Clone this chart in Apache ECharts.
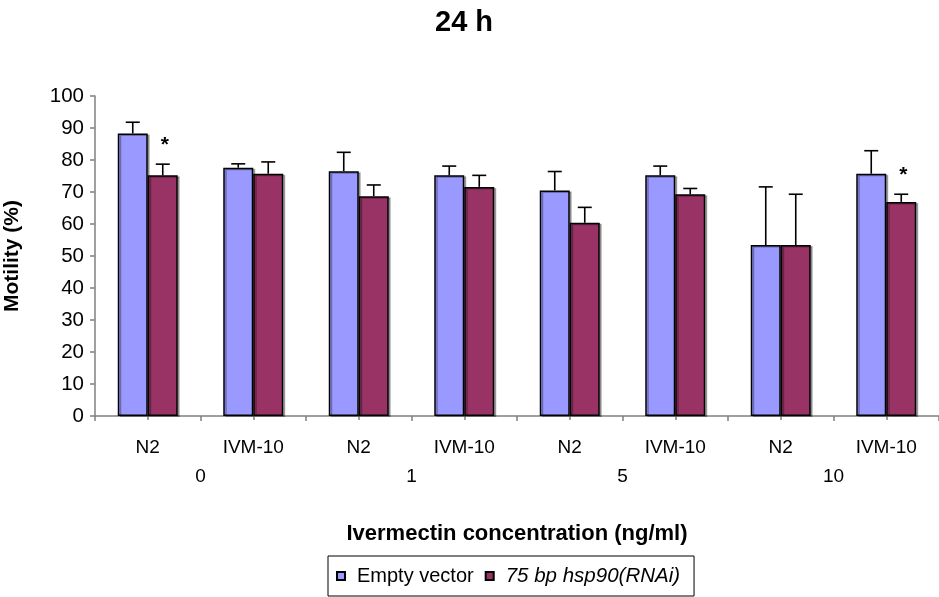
<!DOCTYPE html>
<html>
<head>
<meta charset="utf-8">
<script src="https://cdn.jsdelivr.net/npm/echarts@6/dist/echarts.min.js"></script>
<style>
  html, body { margin: 0; padding: 0; background: #fff; }
  #chart { width: 939px; height: 597px; }
</style>
</head>
<body>
<div id="chart"></div>
<script>
// Strain under each pair of bars, and the ivermectin dose that groups them
const strains = ['N2', 'IVM-10', 'N2', 'IVM-10', 'N2', 'IVM-10', 'N2', 'IVM-10'];
const concentrations = ['0', '1', '5', '10'];

// Motility (%) at 24 h, mean and standard deviation
const emptyVector   = [88.3, 77.6, 76.5, 75.2, 70.5, 75.2, 53.4, 75.7];
const emptyVectorSD = [3.5, 1.2, 5.9, 2.9, 5.9, 2.9, 18.2, 7.2];
const rnai          = [75.2, 75.7, 68.7, 71.6, 60.4, 69.3, 53.4, 66.9];
const rnaiSD        = [3.5, 3.7, 3.5, 3.6, 4.8, 1.8, 15.9, 2.4];
// Pairs flagged as significantly different
const rnaiSignificant = [1, 0, 0, 0, 0, 0, 0, 1];

const seriesNames = ['Empty vector', '75 bp hsp90(RNAi)'];
const yMin = 0, yMax = 100, yStep = 10;

const FONT = '"Liberation Sans", Arial, sans-serif';
const AXIS_GRAY = '#808080';
const BAR_W = 30;

function errorData(means, sds, flags) {
  return means.map((m, i) => [i, m, sds[i], flags ? flags[i] : 0]);
}

// Whisker above each bar (mean -> mean + SD) with a cap, plus optional star
function errorRenderer(shift) {
  return function (params, api) {
    const i = api.value(0);
    const mean = api.value(1);
    const sd = api.value(2);
    const flag = api.value(3);
    const base = api.coord([i, mean]);
    const top = api.coord([i, mean + sd]);
    const x = base[0] + shift;
    const style = { stroke: '#000', lineWidth: 1.6 };
    const children = [
      { type: 'line', shape: { x1: x, y1: base[1], x2: x, y2: top[1] }, style },
      { type: 'line', shape: { x1: x - 7, y1: top[1], x2: x + 7, y2: top[1] }, style }
    ];
    if (flag) {
      children.push({
        type: 'text',
        style: {
          text: '*', x: x + 2, y: top[1] - 19,
          fill: '#000', font: 'bold 21px ' + FONT,
          align: 'center', verticalAlign: 'middle'
        }
      });
    }
    return { type: 'group', children };
  };
}

const chart = echarts.init(document.getElementById('chart'), null, { renderer: 'canvas' });

chart.setOption({
  animation: false,
  backgroundColor: '#fff',
  title: {
    text: '24 h',
    left: 430,
    top: 3,
    textStyle: { fontFamily: FONT, fontSize: 29, fontWeight: 'bold', color: '#000' }
  },
  legend: {
    left: 328,
    top: 556,
    itemWidth: 8,
    itemHeight: 8,
    itemGap: 11,
    padding: [10, 14, 10, 8],
    borderColor: '#000',
    borderWidth: 1,
    icon: 'rect',
    data: seriesNames,
    formatter: function (name) {
      return name === seriesNames[1] ? '{it|' + name + '}' : '{n|' + name + '}';
    },
    textStyle: {
      fontFamily: FONT, fontSize: 20, color: '#000',
      rich: {
        n:  { fontFamily: FONT, fontSize: 20, color: '#000', padding: [0, 0, 0, 7] },
        it: { fontFamily: FONT, fontSize: 20.5, color: '#000', fontStyle: 'italic', padding: [0, 0, 0, 7] }
      }
    }
  },
  grid: { left: 95, right: 0, top: 96, bottom: 181, containLabel: false, outerBoundsMode: 'none' },
  xAxis: [
    {
      type: 'category',
      data: strains,
      position: 'bottom',
      axisLine: { lineStyle: { color: AXIS_GRAY, width: 1.5 } },
      axisTick: { show: true, length: 5, lineStyle: { color: AXIS_GRAY, width: 1.5 } },
      axisLabel: { fontFamily: FONT, fontSize: 19, color: '#000', margin: 22 }
    },
    {
      // ticks under each pair's centre
      type: 'category',
      data: strains,
      position: 'bottom',
      axisLine: { show: false },
      axisTick: { show: true, alignWithLabel: true, length: 4, lineStyle: { color: AXIS_GRAY, width: 1.5 } },
      axisLabel: { show: false }
    },
    {
      // dose level spanning two strains
      type: 'category',
      data: concentrations,
      position: 'bottom',
      axisLine: { show: false },
      axisTick: { show: false },
      axisLabel: { fontFamily: FONT, fontSize: 19, color: '#000', margin: 51 },
      name: 'Ivermectin concentration (ng/ml)',
      nameLocation: 'middle',
      nameGap: 107,
      nameTextStyle: { fontFamily: FONT, fontSize: 22, fontWeight: 'bold', color: '#000' }
    }
  ],
  yAxis: {
    type: 'value',
    min: yMin,
    max: yMax,
    interval: yStep,
    name: 'Motility (%)',
    nameLocation: 'middle',
    nameGap: 72,
    nameTextStyle: { fontFamily: FONT, fontSize: 21, fontWeight: 'bold', color: '#000' },
    axisLine: { show: true, lineStyle: { color: AXIS_GRAY, width: 1.5 } },
    axisTick: { show: true, length: 5, lineStyle: { color: AXIS_GRAY, width: 1.5 } },
    axisLabel: { fontFamily: FONT, fontSize: 20.5, color: '#000', margin: 11 },
    splitLine: { show: false }
  },
  series: [
    {
      name: seriesNames[0],
      type: 'bar',
      xAxisIndex: 0,
      data: emptyVector,
      barWidth: BAR_W,
      barGap: '0%',
      itemStyle: {
        color: '#9999FF', borderColor: '#000', borderWidth: 1.5,
        shadowColor: 'rgba(0,0,0,0.3)', shadowOffsetX: 2, shadowOffsetY: 1
      }
    },
    {
      name: seriesNames[1],
      type: 'bar',
      xAxisIndex: 0,
      data: rnai,
      barWidth: BAR_W,
      barGap: '0%',
      itemStyle: {
        color: '#993366', borderColor: '#000', borderWidth: 1.5,
        shadowColor: 'rgba(0,0,0,0.3)', shadowOffsetX: 2, shadowOffsetY: 1
      }
    },
    {
      type: 'custom',
      xAxisIndex: 0,
      z: 5,
      renderItem: errorRenderer(-BAR_W / 2),
      data: errorData(emptyVector, emptyVectorSD),
      encode: { x: 0, y: 1 },
      silent: true
    },
    {
      type: 'custom',
      xAxisIndex: 0,
      z: 5,
      renderItem: errorRenderer(BAR_W / 2),
      data: errorData(rnai, rnaiSD, rnaiSignificant),
      encode: { x: 0, y: 1 },
      silent: true
    }
  ]
});
</script>
</body>
</html>
